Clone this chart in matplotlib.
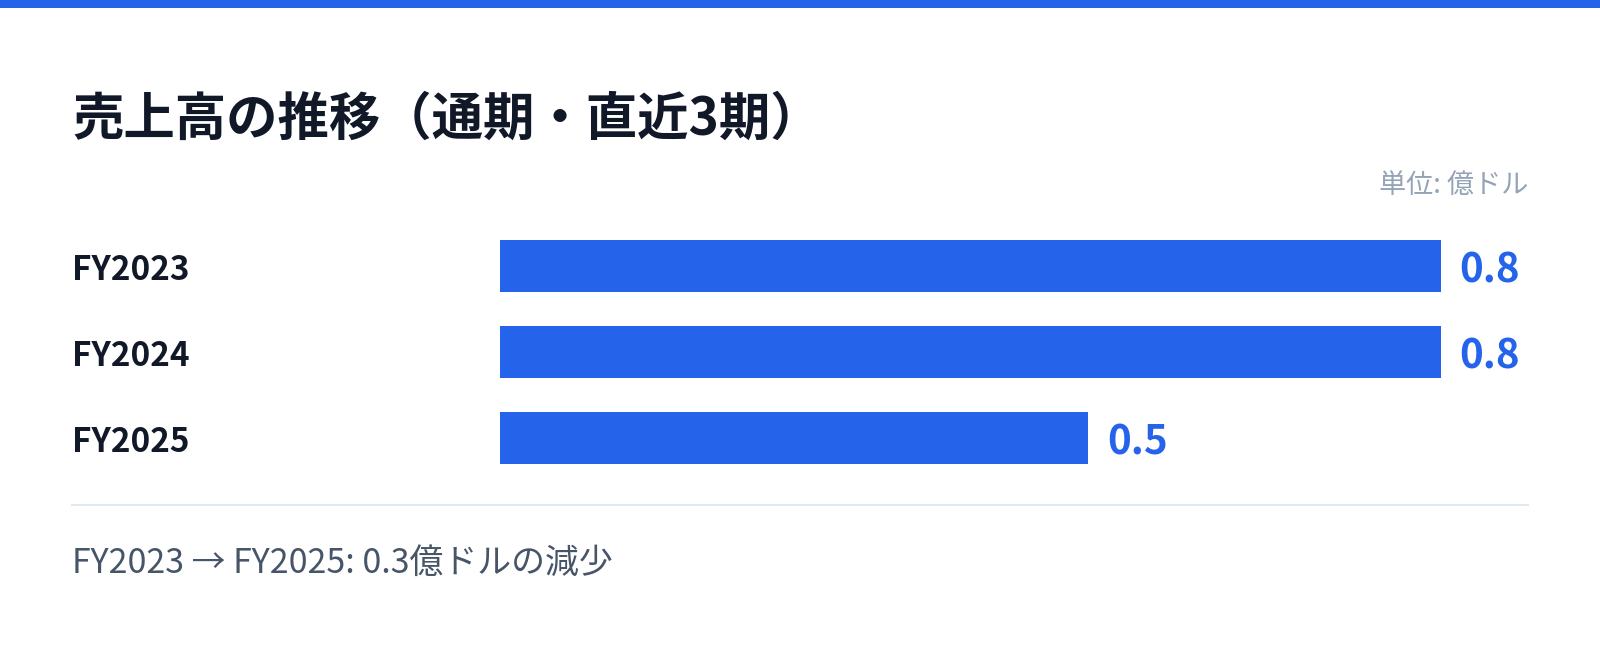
import matplotlib
matplotlib.use("Agg")
import matplotlib.pyplot as plt
from matplotlib.patches import Rectangle
from matplotlib.transforms import blended_transform_factory

# ---- data ----
categories = ["FY2023", "FY2024", "FY2025"]
values = [0.8, 0.8, 0.5]
title = "売上高の推移（通期・直近3期）"
unit_label = "単位: 億ドル"
footer = "FY2023 → FY2025: 0.3億ドルの減少"

# ---- style ----
BLUE = "#2563EB"
DARK = "#111827"
GRAY = "#94A3B8"
FOOT = "#475569"
LINE = "#E2E8F0"
plt.rcParams['font.family'] = ['Noto Sans CJK JP', 'DejaVu Sans']

W, H = 1600, 647
fig = plt.figure(figsize=(W / 100, H / 100), dpi=100)
fig.patch.set_facecolor("white")

def fx(px):
    return px / W

def fy(py):
    return 1 - py / H

# top accent bar
fig.add_artist(Rectangle((0, fy(7.5)), 1, 7.5 / H, transform=fig.transFigure,
                         facecolor=BLUE, edgecolor="none"))

# title and unit
fig.text(fx(72), fy(119), title, fontsize=37, fontweight="bold", color=DARK,
         ha="left", va="center")
fig.text(fx(1528), fy(185), unit_label, fontsize=19.5, color=GRAY,
         ha="right", va="center")

# axes
ax_left, ax_right = 500, 1528
ax_top, ax_bottom = 223, 481
bar_full_px = 940.7  # pixel length of max value bar
ax = fig.add_axes([fx(ax_left), fy(ax_bottom), fx(ax_right - ax_left),
                   (ax_bottom - ax_top) / H])
xmax = max(values) * (ax_right - ax_left) / bar_full_px
ypos = list(range(len(categories)))
ax.barh(ypos, values, height=52 / 86, color=BLUE, edgecolor="none")
ax.set_xlim(0, xmax)
ax.set_ylim(len(categories) - 0.5, -0.5)
ax.axis("off")

trans = blended_transform_factory(fig.transFigure, ax.transData)
for y, cat, v in zip(ypos, categories, values):
    ax.annotate(cat, xy=(fx(72), y), xycoords=trans, xytext=(0, -4),
                textcoords="offset pixels", fontsize=24, fontweight="bold",
                color=DARK, ha="left", va="center")
    ax.annotate(f"{v:.1f}", xy=(v, y), xytext=(19, -5), textcoords="offset pixels",
                fontsize=29, fontweight="bold", color=BLUE, ha="left", va="center")

# separator
fig.add_artist(plt.Line2D([fx(72), fx(1528)], [fy(505), fy(505)],
                          transform=fig.transFigure, color=LINE, linewidth=1.5))

# footer
fig.text(fx(72), fy(563), footer, fontsize=24.4, color=FOOT, ha="left", va="center")

fig.savefig("out.png", dpi=100, facecolor="white")
